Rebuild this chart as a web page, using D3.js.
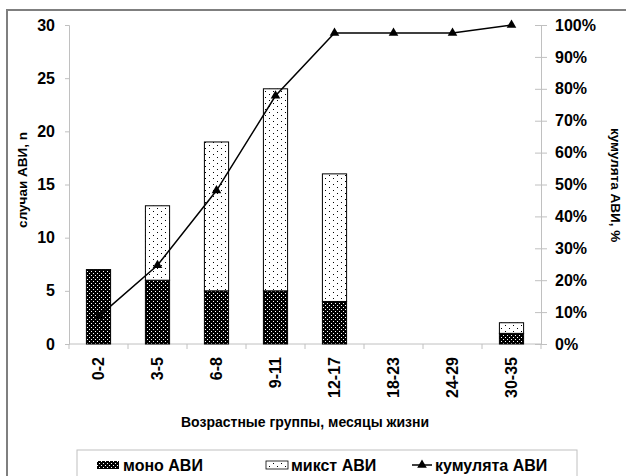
<!DOCTYPE html>
<html>
<head>
<meta charset="utf-8">
<script src="https://cdn.jsdelivr.net/npm/d3@7"></script>
<style>
  html, body { margin: 0; padding: 0; background: #fff; }
  svg { display: block; font-family: "Liberation Sans", Arial, sans-serif; font-weight: bold; }
</style>
</head>
<body>
<svg id="chart" width="626" height="476"></svg>
<script>
// Age groups (months of life)
const categories = ["0-2", "3-5", "6-8", "9-11", "12-17", "18-23", "24-29", "30-35"];
// Cases per group
const mono  = [7, 6, 5, 5, 4, 0, 0, 1];
const mixed = [0, 7, 14, 19, 12, 0, 0, 1];
// Cumulative share of cases, %
const cumulative = [8.6, 24.7, 48.1, 77.8, 97.5, 97.5, 97.5, 100];
const leftTicks = [0, 5, 10, 15, 20, 25, 30];
const rightTicks = [0, 10, 20, 30, 40, 50, 60, 70, 80, 90, 100];

const svg = d3.select("#chart");
const plot = { left: 69, right: 541, top: 25, bottom: 344 };

// Patterns: dense light dots on black, sparse dark dots on white
const defs = svg.append("defs");
const pMono = defs.append("pattern").attr("id", "pMono")
  .attr("patternUnits", "userSpaceOnUse").attr("width", 4).attr("height", 4);
pMono.append("rect").attr("width", 4).attr("height", 4).attr("fill", "#000");
pMono.append("rect").attr("x", 1).attr("y", 1).attr("width", 1).attr("height", 1).attr("fill", "#fff");
pMono.append("rect").attr("x", 3).attr("y", 3).attr("width", 1).attr("height", 1).attr("fill", "#fff");

const pMix = defs.append("pattern").attr("id", "pMix")
  .attr("patternUnits", "userSpaceOnUse").attr("width", 8).attr("height", 6);
pMix.append("rect").attr("width", 8).attr("height", 6).attr("fill", "#fff");
pMix.append("rect").attr("x", 1).attr("y", 1).attr("width", 1).attr("height", 1).attr("fill", "#000");
pMix.append("rect").attr("x", 5).attr("y", 4).attr("width", 1).attr("height", 1).attr("fill", "#000");

// Outer frame
svg.append("rect").attr("x", 7).attr("y", 10).attr("width", 640).attr("height", 480)
  .attr("fill", "none").attr("stroke", "#7f7f7f").attr("stroke-width", 2);

const x = d3.scaleBand().domain(categories).range([plot.left, plot.right])
  .paddingInner(0.59).paddingOuter(0.295);
const y = d3.scaleLinear().domain([0, 30]).range([plot.bottom, plot.top]);
const y2 = d3.scaleLinear().domain([0, 100]).range([plot.bottom, plot.top]);

const axisColor = "#c0c0c0";

// Left axis
const gL = svg.append("g").attr("transform", `translate(${plot.left},0)`)
  .call(d3.axisLeft(y).tickValues(leftTicks).tickSize(4).tickPadding(10));
gL.select(".domain").attr("stroke", axisColor);
gL.selectAll(".tick line").attr("stroke", axisColor);
gL.selectAll(".tick text").attr("font-size", 16).attr("font-weight", "bold")
  .attr("font-family", "Liberation Sans, Arial, sans-serif").attr("fill", "#000");

// Right axis (cross ticks)
const gR = svg.append("g").attr("transform", `translate(${plot.right},0)`)
  .call(d3.axisRight(y2).tickValues(rightTicks).tickFormat(d => d + "%").tickSize(6).tickPadding(8));
gR.select(".domain").attr("stroke", axisColor);
gR.selectAll(".tick line").attr("stroke", axisColor).attr("x1", -6);
gR.selectAll(".tick text").attr("font-size", 16).attr("font-weight", "bold")
  .attr("font-family", "Liberation Sans, Arial, sans-serif").attr("fill", "#000");

// Bottom axis: ticks at group boundaries
const boundaries = d3.range(categories.length + 1).map(i => plot.left + i * x.step());
svg.append("line").attr("x1", plot.left).attr("x2", plot.right)
  .attr("y1", plot.bottom).attr("y2", plot.bottom).attr("stroke", axisColor);
svg.selectAll(".xt").data(boundaries).join("line").attr("class", "xt")
  .attr("x1", d => d).attr("x2", d => d).attr("y1", plot.bottom).attr("y2", plot.bottom + 5)
  .attr("stroke", axisColor);
svg.selectAll(".xl").data(categories).join("text").attr("class", "xl")
  .attr("transform", d => `translate(${x(d) + x.bandwidth() / 2},357) rotate(-90)`)
  .attr("text-anchor", "end").attr("dy", "0.36em")
  .attr("font-size", 16).text(d => d);

// Stacked bars
const bars = svg.append("g");
categories.forEach((c, i) => {
  if (mono[i] > 0) {
    bars.append("rect").attr("x", x(c)).attr("width", x.bandwidth())
      .attr("y", y(mono[i])).attr("height", y(0) - y(mono[i]))
      .attr("fill", "url(#pMono)").attr("stroke", "#000").attr("stroke-width", 1);
  }
  if (mixed[i] > 0) {
    bars.append("rect").attr("x", x(c)).attr("width", x.bandwidth())
      .attr("y", y(mono[i] + mixed[i])).attr("height", y(mono[i]) - y(mono[i] + mixed[i]))
      .attr("fill", "url(#pMix)").attr("stroke", "#000").attr("stroke-width", 1);
  }
});

// Cumulative line with triangle markers
const pts = categories.map((c, i) => [x(c) + x.bandwidth() / 2, y2(cumulative[i])]);
svg.append("path").attr("d", d3.line()(pts)).attr("fill", "none")
  .attr("stroke", "#000").attr("stroke-width", 1.5);
const tri = d3.symbol().type(d3.symbolTriangle).size(40);
svg.selectAll(".mk").data(pts).join("path").attr("class", "mk")
  .attr("transform", d => `translate(${d[0]},${d[1]})`).attr("d", tri).attr("fill", "#000");

// Axis titles
svg.append("text").attr("transform", "translate(27,180) rotate(-90)")
  .attr("text-anchor", "middle").attr("font-size", 13.5).text("случаи АВИ, n");
svg.append("text").attr("transform", "translate(611,185) rotate(90)")
  .attr("text-anchor", "middle").attr("font-size", 13.5).text("кумулята АВИ, %");
svg.append("text").attr("x", (plot.left + plot.right) / 2).attr("y", 427)
  .attr("text-anchor", "middle").attr("font-size", 14).text("Возрастные группы, месяцы жизни");

// Legend
const lg = svg.append("g");
lg.append("rect").attr("x", 77).attr("y", 450).attr("width", 500).attr("height", 40)
  .attr("fill", "#fff").attr("stroke", "#c0c0c0");
lg.append("rect").attr("x", 97).attr("y", 461).attr("width", 22).attr("height", 8)
  .attr("fill", "url(#pMono)");
lg.append("text").attr("x", 123).attr("y", 471).attr("font-size", 16).text("моно АВИ");
lg.append("rect").attr("x", 266).attr("y", 461).attr("width", 22).attr("height", 8)
  .attr("fill", "url(#pMix)").attr("stroke", "#000").attr("stroke-width", 0.8);
lg.append("text").attr("x", 291).attr("y", 471).attr("font-size", 16).text("микст АВИ");
lg.append("line").attr("x1", 412).attr("x2", 432).attr("y1", 465).attr("y2", 465)
  .attr("stroke", "#000").attr("stroke-width", 1.5);
lg.append("path").attr("transform", "translate(422,465)").attr("d", tri).attr("fill", "#000");
lg.append("text").attr("x", 435).attr("y", 471).attr("font-size", 16).text("кумулята АВИ");
</script>
</body>
</html>
